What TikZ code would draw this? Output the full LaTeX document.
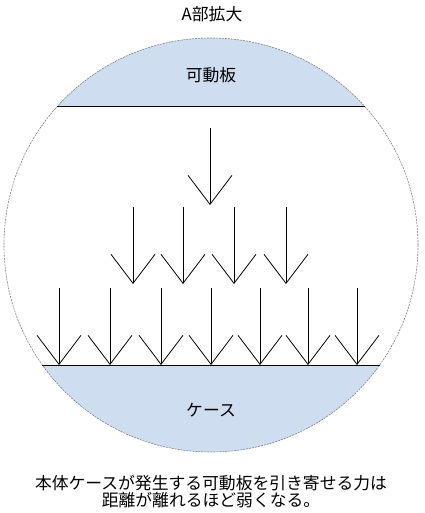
\documentclass[tikz,border=0pt]{standalone}
\usepackage{fontspec}
\newfontfamily\jp{Noto Sans CJK JP}
\usetikzlibrary{arrows.meta}
\definecolor{plateblue}{RGB}{207,221,241}
\begin{document}
\begin{tikzpicture}[x=1pt,y=-1pt,
  lbl/.style={inner sep=0pt, font=\jp\fontsize{16.8}{17}\selectfont},
  force/.style={line width=0.8pt, -{Straight Barb[length=29pt,width=44pt,line width=0.8pt]}},
  plate/.style={line width=1pt}]
\useasboundingbox (0,0) rectangle (424,513);
\coordinate (C) at (211,245);
% filled segments
\begin{scope}
  \clip (C) circle[radius=207pt];
  \fill[plateblue] (0,0) rectangle (424,107);
  \fill[plateblue] (0,365) rectangle (424,513);
\end{scope}
\draw[gray, line width=0.6pt, dash pattern=on 2pt off 1pt] (C) circle[radius=207pt];
% plates
\coordinate (tl) at (57,107); \coordinate (tr) at (365,107);
\coordinate (bl) at (42,365); \coordinate (br) at (380,365);
\draw[plate] (tl) -- (tr);
\draw[plate] (bl) -- (br);
% labels
\node[lbl] (title) at (212,14) {A部拡大};
\node[lbl] (mov) at (211,75) {可動板};
\node[lbl] (case) at (211,410) {ケース};
\node[lbl, align=center] (cap) at (211,492) {本体ケースが発生する可動板を引き寄せる力は\\距離が離れるほど弱くなる。};
% arrows row 1
\coordinate (a1s) at (210,128); \coordinate (a1e) at (210,205);
\draw[force] (a1s) -- (a1e);
% row 2
\foreach \x [count=\i] in {133,183,234,286}{
  \coordinate (b\i s) at (\x,207); \coordinate (b\i e) at (\x,284);
  \draw[force] (b\i s) -- (b\i e);
}
% row 3
\foreach \x [count=\i] in {59,110,161,211,260,308,357}{
  \coordinate (c\i s) at (\x,288); \coordinate (c\i e) at (\x,365);
  \draw[force] (c\i s) -- (c\i e);
}
\end{tikzpicture}
\end{document}
